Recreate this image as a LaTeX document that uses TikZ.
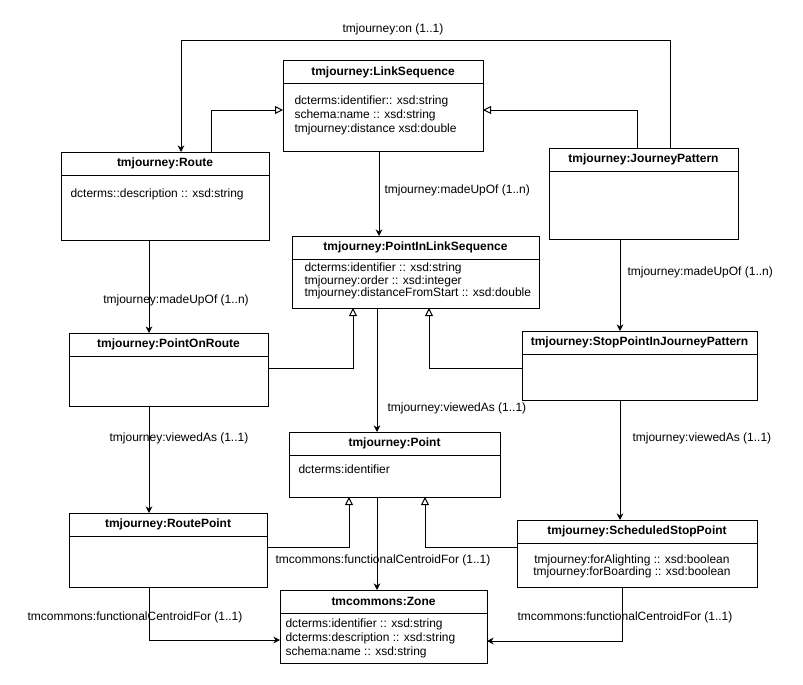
\documentclass[tikz,border=0pt]{standalone}
\usepackage{fontspec}
\setmainfont{Liberation Sans}
\usetikzlibrary{calc, arrows.meta}

\newcommand{\classnode}[6]{%
  \node[classbox, minimum width=#4*0.75pt, minimum height=#5*0.75pt] (#1) at (#2,#3) {};
  \draw ($(#1.north west)+(0,23)$) -- ($(#1.north east)+(0,23)$);
  \node[classtitle] (#1_title) at ($(#1.north)+(0,11.5)$) {#6};
}

\begin{document}
\begin{tikzpicture}[x=0.75pt, y=-0.75pt, line width=0.75pt]
\tikzstyle{classbox}=[draw, anchor=north west, inner sep=0pt, outer sep=0pt]
\tikzstyle{classtitle}=[font=\bfseries\fontsize{9}{10.5}\selectfont, inner sep=0pt]
\tikzstyle{attrs}=[font=\fontsize{9}{10.5}\selectfont, align=left, anchor=west, inner sep=0pt]
\tikzstyle{lbl}=[font=\fontsize{9}{10.5}\selectfont, inner sep=0pt]
\tikzstyle{assoc}=[-{Stealth[length=5pt,width=5pt]}]
\tikzstyle{gen}=[-{Triangle[open,length=6pt,width=6pt]}]
\useasboundingbox (0,0) rectangle (803,685);

% classes
\classnode{LS}{283}{61}{200}{90}{tmjourney:LinkSequence}
\classnode{Route}{61}{152}{208}{88}{tmjourney:Route}
\classnode{JP}{549}{148}{189}{91}{tmjourney:JourneyPattern}
\classnode{PILS}{292}{236}{247}{72}{tmjourney:PointInLinkSequence}
\classnode{POR}{69}{333}{199}{73}{tmjourney:PointOnRoute}
\classnode{SPIJP}{522}{331}{235}{69}{tmjourney:StopPointInJourneyPattern}
\classnode{Point}{289}{432}{211}{65}{tmjourney:Point}
\classnode{RP}{69}{513}{198}{74}{tmjourney:RoutePoint}
\classnode{SSP}{517}{520}{240}{67}{tmjourney:ScheduledStopPoint}
\classnode{Zone}{280}{590}{207}{73}{tmcommons:Zone}

% attributes
\node[attrs] (LS_attr) at (294,115) {dcterms:identifier:: xsd:string\\schema:name :: xsd:string\\tmjourney:distance xsd:double};
\node[attrs] (Route_attr) at (70,194) {dcterms::description :: xsd:string};
\node[attrs, font=\fontsize{9}{8}\selectfont] (PILS_attr) at (304,281) {dcterms:identifier :: xsd:string\\tmjourney:order :: xsd:integer\\tmjourney:distanceFromStart :: xsd:double};
\node[attrs] (Point_attr) at (298,469) {dcterms:identifier};
\node[attrs, anchor=center, align=center, font=\fontsize{9}{9}\selectfont] (SSP_attr) at (632,566) {tmjourney:forAlighting :: xsd:boolean\\tmjourney:forBoarding :: xsd:boolean};
\node[attrs] (Zone_attr) at (285,638) {dcterms:identifier :: xsd:string\\dcterms:description :: xsd:string\\schema:name :: xsd:string};

% bend points
\coordinate (on_r) at (670,41);
\coordinate (on_l) at (181,41);
\coordinate (g_route) at (211,110);
\coordinate (g_jp) at (637,110);
\coordinate (v_ls) at (379,190);
\coordinate (v_route) at (149,300);
\coordinate (v_jp) at (620,272);
\coordinate (g_por) at (353,368);
\coordinate (g_spijp) at (429,368);
\coordinate (v_pils) at (377,408);
\coordinate (g_rp) at (349,547);
\coordinate (g_ssp) at (425,547);
\coordinate (f_rp) at (149,640);
\coordinate (f_ssp) at (622,641);

% connectors
\draw[assoc] (JP.north -| on_r) -- (on_r) -- (on_l) -- (Route.north -| on_l);
\draw[gen] (Route.north -| g_route) |- (LS.west |- g_route);
\draw[gen] (JP.north -| g_jp) |- (LS.east |- g_jp);
\draw[assoc] (LS.south -| v_ls) -- (PILS.north -| v_ls);
\draw[assoc] (Route.south -| v_route) -- (POR.north -| v_route);
\draw[assoc] (JP.south -| v_jp) -- (SPIJP.north -| v_jp);
\draw[gen] (POR.east |- g_por) -| (PILS.south -| g_por);
\draw[gen] (SPIJP.west |- g_spijp) -| (PILS.south -| g_spijp);
\draw[assoc] (PILS.south -| v_pils) -- (Point.north -| v_pils);
\draw[assoc] (POR.south -| v_route) -- (RP.north -| v_route);
\draw[assoc] (SPIJP.south -| v_jp) -- (SSP.north -| v_jp);
\draw[gen] (RP.east |- g_rp) -| (Point.south -| g_rp);
\draw[gen] (SSP.west |- g_ssp) -| (Point.south -| g_ssp);
\draw[assoc] (Point.south -| v_pils) -- (Zone.north -| v_pils);
\draw[assoc] (RP.south -| f_rp) |- (Zone.west |- f_rp);
\draw[assoc] (SSP.south -| f_ssp) |- (Zone.east |- f_ssp);

% labels
\node[lbl] (on_lbl) at (393,29) {tmjourney:on (1..1)};
\node[lbl, anchor=west] (ls_lbl) at (384,190) {tmjourney:madeUpOf (1..n)};
\node[lbl] (route_lbl) at (176,300) {tmjourney:madeUpOf (1..n)};
\node[lbl, anchor=west] (jp_lbl) at (627,272) {tmjourney:madeUpOf (1..n)};
\node[lbl, anchor=west] (pils_lbl) at (387,408) {tmjourney:viewedAs (1..1)};
\node[lbl] (por_lbl) at (179,438) {tmjourney:viewedAs (1..1)};
\node[lbl, anchor=west] (spijp_lbl) at (632,438) {tmjourney:viewedAs (1..1)};
\node[lbl] (point_lbl) at (383,560) {tmcommons:functionalCentroidFor (1..1)};
\node[lbl] (rp_lbl) at (135,617) {tmcommons:functionalCentroidFor (1..1)};
\node[lbl] (ssp_lbl) at (625,617) {tmcommons:functionalCentroidFor (1..1)};
\end{tikzpicture}
\end{document}
